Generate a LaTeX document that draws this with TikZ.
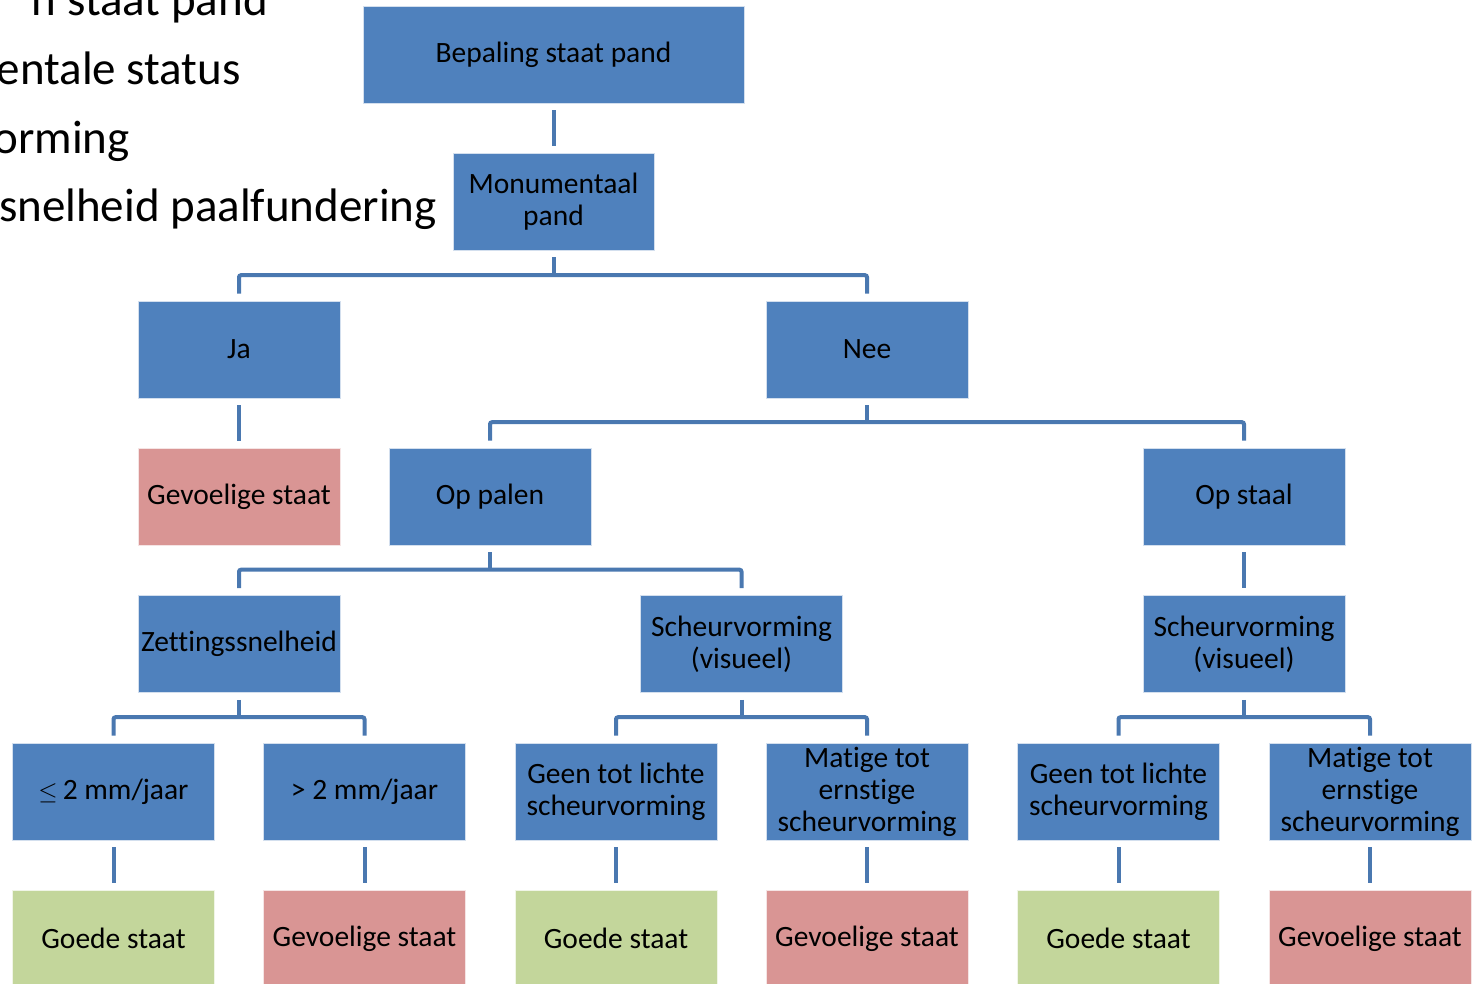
\documentclass[tikz,border=0pt]{standalone}
\usepackage{fontspec}
\setmainfont[Ligatures=NoCommon]{Carlito}
\definecolor{boxblue}{HTML}{4F81BD}
\definecolor{boxred}{HTML}{D99594}
\definecolor{boxgreen}{HTML}{C3D69B}
\definecolor{linecol}{HTML}{4A78B0}
\begin{document}
\begin{tikzpicture}[x=1pt,y=-1pt,
  box/.style={rectangle, fill=boxblue, draw=white!75!boxblue, line width=0.6pt,
    minimum width=202pt, minimum height=97pt, inner sep=1pt, align=center,
    font=\fontsize{29.5}{32}\selectfont, text=black},
  redbox/.style={box, fill=boxred, draw=white!75!boxred},
  greenbox/.style={box, fill=boxgreen, draw=white!75!boxgreen},
  conn/.style={draw=linecol, line width=4pt, rounded corners=2pt},
  bigtxt/.style={font=\fontsize{47}{52}\selectfont, anchor=base east, inner sep=0pt, text=black}]
\useasboundingbox (0,0) rectangle (1472,983);
% left text fragments
\node[bigtxt] (t1) at (268,15) {n staat pand};
\node[bigtxt] (t2) at (241,84) {entale status};
\node[bigtxt] (t3) at (130,153) {orming};
\node[bigtxt] (t4) at (437,221) {snelheid paalfundering};
% boxes
\node[box, minimum width=381pt] (bep) at (553.5,54.5) {Bepaling staat pand};
\node[box, minimum width=201pt] (mon) at (553.5,201.5) {Monumentaal\\pand};
\node[box] (ja) at (239,349.5) {Ja};
\node[box] (nee) at (867,349.5) {Nee};
\node[redbox] (gevja) at (239,496.5) {Gevoelige staat};
\node[box] (palen) at (490,496.5) {Op palen};
\node[box] (staal) at (1244,496.5) {Op staal};
\node[box] (zet) at (239,644) {Zettingssnelheid};
\node[box] (sch1) at (741.5,644) {Scheurvorming\\(visueel)};
\node[box] (sch2) at (1244,644) {Scheurvorming\\(visueel)};
\node[box] (le) at (113.5,791.5) {$\le$\,2 mm/jaar};
\node[box] (gt) at (364.5,791.5) {> 2 mm/jaar};
\node[box] (geen1) at (616,791.5) {Geen tot lichte\\scheurvorming};
\node[box] (mat1) at (867,791.5) {Matige tot\\ernstige\\scheurvorming};
\node[box] (geen2) at (1118.5,791.5) {Geen tot lichte\\scheurvorming};
\node[box] (mat2) at (1370,791.5) {Matige tot\\ernstige\\scheurvorming};
\node[greenbox] (g1) at (113.5,938.5) {Goede staat};
\node[redbox] (r1) at (364.5,938.5) {Gevoelige staat};
\node[greenbox] (g2) at (616,938.5) {Goede staat};
\node[redbox] (r2) at (867,938.5) {Gevoelige staat};
\node[greenbox] (g3) at (1118.5,938.5) {Goede staat};
\node[redbox] (r3) at (1370,938.5) {Gevoelige staat};
% straight connectors
\foreach \a/\b in {bep/mon, ja/gevja, staal/sch2, le/g1, gt/r1, geen1/g2, mat1/r2, geen2/g3, mat2/r3}
  \draw[conn] ([yshift=-7pt]\a.south) -- ([yshift=7pt]\b.north);
% branching connectors
\foreach \p/\l/\r in {mon/ja/nee, nee/palen/staal, palen/zet/sch1, zet/le/gt, sch1/geen1/mat1, sch2/geen2/mat2}{
  \draw[conn] ([yshift=-7pt]\p.south) -- ([yshift=-25.5pt]\p.south);
  \draw[conn] ([yshift=7pt]\l.north) |- ([yshift=25.5pt]\r.north) -- ([yshift=7pt]\r.north);
}
\end{tikzpicture}
\end{document}
